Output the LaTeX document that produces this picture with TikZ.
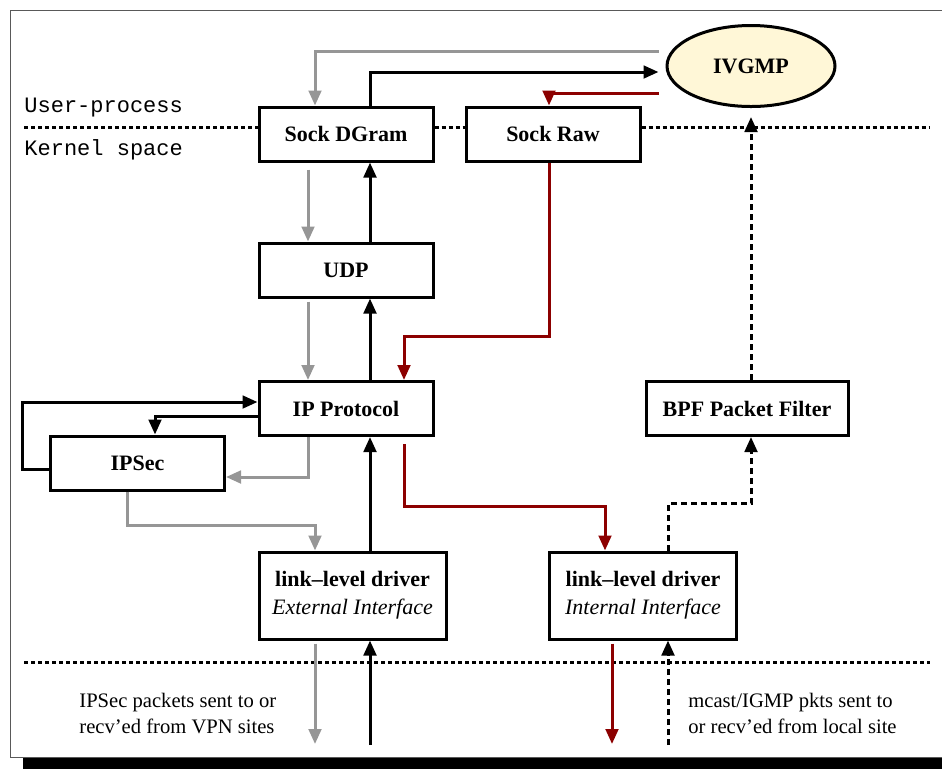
\documentclass[tikz,border=0pt]{standalone}
\usepackage{fontspec}
\setmainfont{Liberation Serif}
\setmonofont{Liberation Mono}
\usetikzlibrary{arrows.meta,shapes.geometric}
\definecolor{ivgmpfill}{RGB}{255,247,215}
\definecolor{pathgray}{RGB}{150,150,150}
\definecolor{pathred}{RGB}{140,0,0}

\begin{document}
\begin{tikzpicture}[x = 0.5pt, y = -0.5pt, >={Triangle[length = 7.5pt, width = 6.3pt]}]
  % styles
  \tikzstyle{frame} = [draw = black!65, line width = 0.5pt]
  \tikzstyle{layer} = [line width = 1.5pt, dash pattern = on 2pt off 1.5pt]
  \tikzstyle{module} = [draw, line width = 1.5pt, minimum width = 87pt, minimum height = 27pt,
    inner sep = 0pt, font = \fontsize{11}{14}\selectfont\bfseries, align = center]
  \tikzstyle{driver} = [module, minimum width = 93.5pt, minimum height = 43.5pt]
  \tikzstyle{flow} = [->, line width = 1.5pt]
  \tikzstyle{gray flow} = [flow, pathgray]
  \tikzstyle{red flow} = [flow, pathred]
  \tikzstyle{bpf flow} = [flow, dash pattern = on 3pt off 2pt]
  \tikzstyle{note} = [align = left, anchor = west, inner sep = 0pt, font = \fontsize{10.3}{13}\selectfont]
  \tikzstyle{space} = [anchor = base west, inner sep = 0pt, font = \fontsize{11}{13}\selectfont\ttfamily]

  \useasboundingbox (0, 0) rectangle (942, 768);

  % page frame and shadow
  \fill (23, 758) rectangle (960, 775);
  \draw[frame] (10, 10) rectangle (950, 757);

  % modules
  \node[module] (dgram) at (346, 134) {Sock DGram};
  \node[module] (raw) at (553, 134) {Sock Raw};
  \node[ellipse, draw, line width = 1.5pt, fill = ivgmpfill, minimum width = 84pt,
    minimum height = 40.5pt, inner sep = 0pt, font = \fontsize{11}{14}\selectfont\bfseries]
    (ivgmp) at (751, 66) {IVGMP};
  \node[module] (udp) at (346, 270) {UDP};
  \node[module] (ip) at (346, 408.5) {IP Protocol};
  \node[module] (ipsec) at (137.5, 463) {IPSec};
  \node[module, minimum width = 101pt] (bpf) at (747, 408.5) {BPF Packet Filter};
  \node[driver] (ext) at (352.5, 595.5) {link--level driver\\\normalfont\itshape External Interface};
  \node[driver] (int) at (643, 595.5) {link--level driver\\\normalfont\itshape Internal Interface};

  % user / kernel boundary
  \begin{scope}[style = layer]
    \draw (24, 127) -- (dgram.west |- 0, 127);
    \draw (dgram.east |- 0, 127) -- (raw.west |- 0, 127);
    \draw (raw.east |- 0, 127) -- (930, 127);
    \draw (24, 662) -- (930, 662);
  \end{scope}
  \node[space] (user) at (24, 112) {User-process};
  \node[space] (kernel) at (24, 155) {Kernel space};

  % socket <-> ivgmp
  \draw[gray flow, shorten < = 3.5pt] (ivgmp.west |- 0, 51) -| (dgram.north -| 315, 0);
  \draw[flow, shorten > = 3.5pt] (dgram.north -| 370, 0) |- (ivgmp.west |- 0, 72);
  \draw[red flow, shorten < = 3.5pt] (ivgmp.west |- 0, 93) -| (raw.north -| 549, 0);
  \draw[red flow] (raw.south -| 549, 0) -- ++(0, 174) -| (ip.north -| 404, 0);

  % udp stack
  \draw[gray flow, shorten < = 3.5pt] (dgram.south -| 308, 0) -- (udp.north -| 308, 0);
  \draw[flow] (udp.north -| 370, 0) -- (dgram.south -| 370, 0);
  \draw[gray flow, shorten < = 1.5pt] (udp.south -| 308, 0) -- (ip.north -| 308, 0);
  \draw[flow] (ip.north -| 370, 0) -- (udp.south -| 370, 0);

  % ipsec loop
  \draw[flow] (ipsec.west |- 0, 469) -- ++(-27, 0) |- (ip.west |- 0, 402);
  \draw[flow] (ip.west |- 0, 416) -| (ipsec.north -| 155, 0);
  \draw[gray flow] (ip.south -| 308, 0) |- (ipsec.east |- 0, 477);
  \draw[gray flow] (ipsec.south -| 127, 0) -- ++(0, 34) -| (ext.north -| 315, 0);

  % drivers
  \draw[flow] (ext.north -| 370, 0) -- (ip.south -| 370, 0);
  \draw[red flow, shorten < = 3.5pt] (ip.south -| 404, 0) -- ++(0, 69) -| (int.north -| 605, 0);
  \draw[bpf flow] (int.north -| 668, 0) -- ++(0, -47) -| (bpf.south -| 751, 0);
  \draw[bpf flow, shorten > = 4.5pt] (bpf.north -| 751, 0) -- (ivgmp.south);

  % wire side
  \coordinate (ext out) at (315, 744);
  \coordinate (ext in) at (370, 745);
  \coordinate (int out) at (612, 744);
  \coordinate (int in) at (668, 745);
  \draw[gray flow, shorten < = 1.5pt] (ext.south -| 315, 0) -- (ext out);
  \draw[flow] (ext in) -- (ext.south -| 370, 0);
  \draw[red flow, shorten < = 1.5pt] (int.south -| 612, 0) -- (int out);
  \draw[bpf flow] (int in) -- (int.south -| 668, 0);

  % notes
  \node[note] (vpn note) at (79, 713) {IPSec packets sent to or\\recv'ed from VPN sites};
  \node[note] (local note) at (688, 713) {mcast/IGMP pkts sent to\\or recv'ed from local site};

\end{tikzpicture}
\end{document}
